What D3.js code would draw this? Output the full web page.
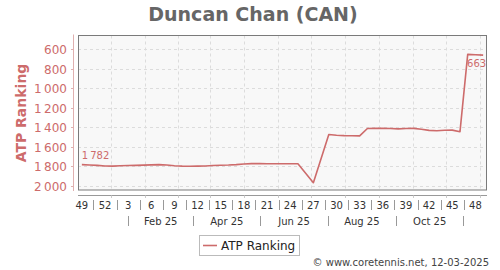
<!DOCTYPE html>
<html><head><meta charset="utf-8">
<script src="https://cdn.jsdelivr.net/npm/d3@7"></script>
<style>body{margin:0;background:#fff}svg{display:block;font-family:"DejaVu Sans",sans-serif}</style>
</head><body><svg id="c" width="500" height="270"></svg>
<script>
const title = "Duncan Chan (CAN)";
const seriesName = "ATP Ranking";
const weeks = [0,1,2,3,4,5,6,7,8,9,10,11,12,13,14,15,16,17,18,19,20,21,22,23,24,25,26,27,28,30,32,33,34,35,36,37,38,39,40,41,42,43,44,45,46,47,48,49,50,51,52];
const ranks = [1782,1785,1789,1795,1797,1793,1790,1789,1787,1784,1782,1786,1793,1797,1798,1797,1795,1791,1788,1786,1782,1776,1771,1771,1772,1772,1772,1773,1773,1966,1474,1481,1485,1487,1488,1412,1411,1411,1413,1416,1413,1411,1420,1432,1436,1430,1429,1445,655,659,663];
const weekTickLabels = ["49","52","3","6","9","12","15","18","21","24","27","30","33","36","39","42","45","48"];
const monthLabels = ["Feb 25","Apr 25","Jun 25","Aug 25","Oct 25"];
const yTicks = [600,800,1000,1200,1400,1600,1800,2000];
const startDate = new Date(2024,10,20);
const credit = "\u00a9 www.coretennis.net, 12-03-2025";

const red = "#cd6b6b";
const fmt = d3.formatLocale({decimal:".",thousands:"\u2009",grouping:[3],currency:["",""]}).format(",d");
const dayMs = 864e5;
const dateOf = i => new Date(startDate.getTime() + i*7*dayMs);

const L=78, R=487, T=35.5, B=190;
const svg = d3.select("#c");
const x = d3.scaleTime().domain([dateOf(-0.5), dateOf(52.5)]).range([L, R]);
const y = d3.scaleLinear().domain([462, 2041]).range([T, B]);

// title
svg.append("text").attr("x",253).attr("y",21).attr("text-anchor","middle")
  .attr("font-size",19).attr("font-weight","bold").attr("fill","#666").text(title);

// plot background
svg.append("rect").attr("x",L).attr("y",T).attr("width",R-L).attr("height",B-T).attr("fill","#f8f8f8");

// month boundaries & mid points
const monthStarts = d3.timeMonth.range(new Date(2024,11,1), new Date(2025,11,1));
const monthMids = monthStarts.map(m => new Date((m.getTime() + d3.timeMonth.offset(m,1).getTime())/2));
const oddStarts = monthStarts.filter(m => m.getMonth()%2===0);

// grid
const g = svg.append("g").attr("stroke","#dcdcdc").attr("stroke-dasharray","3,3").attr("stroke-width",1);
yTicks.forEach(t => g.append("line").attr("x1",L).attr("x2",R).attr("y1",Math.round(y(t))+0.5).attr("y2",Math.round(y(t))+0.5));
monthMids.forEach(m => { const xx=Math.round(x(m))+0.5; if(xx>L && xx<R) g.append("line").attr("x1",xx).attr("x2",xx).attr("y1",T).attr("y2",B); });

// frame
svg.append("rect").attr("x",L+0.5).attr("y",T).attr("width",R-L-1).attr("height",B-T).attr("fill","none").attr("stroke","#7a7a7a").attr("stroke-width",1);

// y axis
svg.append("line").attr("x1",73.5).attr("x2",73.5).attr("y1",T-1).attr("y2",B+1).attr("stroke","#e0b0b0");
yTicks.forEach(t => {
  const yy = Math.round(y(t))+0.5;
  svg.append("line").attr("x1",71).attr("x2",74).attr("y1",yy).attr("y2",yy).attr("stroke","#e0b0b0");
  svg.append("text").attr("x",67).attr("y",yy+4.5).attr("text-anchor","end").attr("font-size",12).attr("fill",red).text(fmt(t));
});
svg.append("text").attr("transform","translate(26,113) rotate(-90)").attr("text-anchor","middle")
  .attr("font-size",14).attr("font-weight","bold").attr("fill",red).text(seriesName);

// x axis
svg.append("line").attr("x1",L).attr("x2",R).attr("y1",195.5).attr("y2",195.5).attr("stroke","#999");
monthMids.forEach(m => { const xx=Math.round(x(m))+0.5; if(xx>L && xx<R) svg.append("line").attr("x1",xx).attr("x2",xx).attr("y1",195.5).attr("y2",198).attr("stroke","#ccc"); });
weekTickLabels.forEach((lab,i) => {
  const xx = x(dateOf(i*3));
  svg.append("text").attr("x",xx).attr("y",208.5).attr("text-anchor","middle").attr("font-size",10).attr("fill","#333").text(lab);
  if (i < weekTickLabels.length-1) {
    const sx = Math.round(x(dateOf(i*3+1.5)))+0.5;
    svg.append("line").attr("x1",sx).attr("x2",sx).attr("y1",200).attr("y2",210).attr("stroke","#999");
  }
});
oddStarts.forEach(m => {
  const sx = Math.round(x(m))+0.5;
  svg.append("line").attr("x1",sx).attr("x2",sx).attr("y1",216).attr("y2",226).attr("stroke","#999");
});
monthLabels.forEach((lab,i) => {
  const a = oddStarts[i], b = oddStarts[i+1];
  svg.append("text").attr("x",(x(a)+x(b))/2).attr("y",224.5).attr("text-anchor","middle").attr("font-size",10).attr("fill","#333").text(lab);
});

// line
const pts = weeks.map((w,i)=>({d:dateOf(w), r:ranks[i]}));
svg.append("path").datum(pts).attr("fill","none").attr("stroke",red).attr("stroke-width",1.6).attr("stroke-linejoin","round")
  .attr("d", d3.line().x(p=>x(p.d)).y(p=>y(p.r)));

// data labels
const first = pts[0], last = pts[pts.length-1];
svg.append("text").attr("x",x(first.d)).attr("y",y(first.r)-6).attr("font-size",10).attr("fill",red).text(fmt(first.r));
svg.append("text").attr("x",x(last.d)+3).attr("y",y(last.r)+12).attr("text-anchor","end").attr("font-size",10).attr("fill",red).text(fmt(last.r));

// legend
svg.append("rect").attr("x",199.5).attr("y",235.5).attr("width",100).attr("height",20).attr("fill","#fff").attr("stroke","#bbb");
svg.append("line").attr("x1",203).attr("x2",217).attr("y1",245.5).attr("y2",245.5).attr("stroke",red).attr("stroke-width",1.6);
svg.append("text").attr("x",221).attr("y",250).attr("font-size",12).attr("fill","#222").text(seriesName);

// credit
svg.append("text").attr("x",489).attr("y",266).attr("text-anchor","end").attr("font-size",10).attr("fill","#444").text(credit);
</script></body></html>
